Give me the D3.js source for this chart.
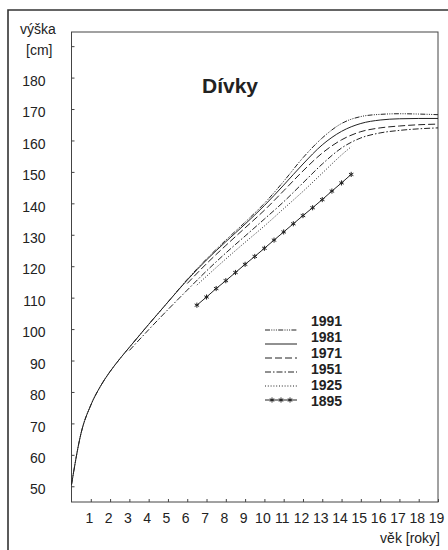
<!DOCTYPE html>
<html><head><meta charset="utf-8">
<script src="https://cdn.jsdelivr.net/npm/d3@7"></script>
<style>
html,body{margin:0;padding:0;background:#fff;}
svg{display:block;font-family:"Liberation Sans",Arial,Helvetica,sans-serif;}
</style></head>
<body>
<svg id="chart" width="448" height="550"></svg>
<script>
// ---- data ----
const yTicks = [50,60,70,80,90,100,110,120,130,140,150,160,170,180,190];
const xTicks = [1,2,3,4,5,6,7,8,9,10,11,12,13,14,15,16,17,18,19];
const seriesNames = ["1991","1981","1971","1951","1925","1895"];

const ages1991 = [0,0.5,1,1.5,2,2.5,3,4,5,6,7,8,9,10,11,12,13,14,15,16,17,18,19];
const h1991   = [50.5,67,75.8,81.8,86.5,90.5,94.2,101.5,108.6,115.8,122.3,128.3,134,140,147,154.5,160.8,165.4,167.6,168.3,168.5,168.4,168.2];

const ages1981 = [0,0.5,1,1.5,2,2.5,3,4,5,6,7,8,9,10,11,12,13,14,15,16,17,18,19];
const h1981   = [50.5,67,75.8,81.8,86.5,90.5,94.2,101.5,108.6,115.6,122,127.8,133.4,139.3,145.8,152.5,158.6,162.9,165.4,166.5,166.9,167,167];

const ages1971 = [6,7,8,9,10,11,12,13,14,15,16,17,18,19];
const h1971   = [114.5,120.8,126.6,132.2,137.8,144,150.3,156,160.2,162.8,164,164.6,165,165.2];

const ages1951 = [3,4,5,6,7,8,9,10,11,12,13,14,15,16,17,18,19];
const h1951   = [93.2,99.8,106.2,112.4,118.5,124.2,129.6,135,140.5,146.5,152.5,157.6,160.8,162.4,163.2,163.7,164];

const ages1925 = [6.5,7,8,9,10,11,12,13,14,14.5];
const h1925   = [114,116.8,122.3,127.6,132.8,138.3,143.8,149.6,155.4,158];

const ages1895 = [6.5,7,7.5,8,8.5,9,9.5,10,10.5,11,11.5,12,12.5,13,13.5,14,14.5];
const h1895   = [107.6,110.2,112.9,115.4,118.0,120.6,123.1,125.7,128.3,130.9,133.5,136.1,138.6,141.2,143.9,146.5,149.2];

const seriesAges = [ages1991, ages1981, ages1971, ages1951, ages1925, ages1895];
const seriesVals = [h1991, h1981, h1971, h1951, h1925, h1895];

// ---- styles ----
const dashes = ["5,1.3,1,1.3,1,1.3,1,1.3", null, "7,3", "6,2,1.5,2", "1,1.8", null];
const ink = "#222";

const svg = d3.select("#chart");
const L = 71.5, R = 438, T = 32, B = 502;
const x = d3.scaleLinear().domain([0,19]).range([L,R]);
const y = d3.scaleLinear().domain([45,194.5]).range([B,T]);

// outer frame (left + top)
svg.append("path").attr("d", d3.line()([[8,550],[8,10],[448,10]]))
  .attr("fill","none").attr("stroke","#333").attr("stroke-width",1.6);

// plot box
svg.append("rect").attr("x",L).attr("y",T).attr("width",R-L).attr("height",B-T)
  .attr("fill","none").attr("stroke","#444").attr("stroke-width",1);

// y axis
const ya = svg.append("g").attr("transform",`translate(${L},0)`)
  .call(d3.axisLeft(y).tickValues(yTicks).tickSizeInner(-3).tickSizeOuter(0).tickPadding(26)
    .tickFormat(d => d===190 ? "" : d));
ya.select(".domain").remove();
ya.selectAll("line").attr("stroke","#444");
ya.selectAll("text").attr("font-size",14).attr("fill",ink).attr("dy","0.55em");

// x axis
const xa = svg.append("g").attr("transform",`translate(0,${B})`)
  .call(d3.axisBottom(x).tickValues(xTicks).tickSizeInner(-3).tickSizeOuter(0).tickPadding(11));
xa.select(".domain").remove();
xa.selectAll("line").attr("stroke","#444");
xa.selectAll("text").attr("font-size",14).attr("fill",ink).attr("dx",-2);

// axis titles
svg.append("text").attr("x",20).attr("y",34).attr("font-size",14).attr("fill",ink).text("výška");
svg.append("text").attr("x",26).attr("y",55).attr("font-size",14).attr("fill",ink).text("[cm]");
svg.append("text").attr("x",440).attr("y",543).attr("text-anchor","end").attr("font-size",14).attr("fill",ink).text("věk [roky]");

// title
svg.append("text").attr("x",202).attr("y",93).attr("font-size",21).attr("font-weight","bold").attr("fill",ink).text("Dívky");

// lines
const line = d3.line().curve(d3.curveMonotoneX);
seriesNames.forEach((name,i) => {
  const pts = seriesAges[i].map((a,j) => [x(a), y(seriesVals[i][j])]);
  const p = svg.append("path").attr("d", line(pts)).attr("fill","none")
    .attr("stroke",ink).attr("stroke-width", 1);
  if (dashes[i]) p.attr("stroke-dasharray", dashes[i]);
});

// 1895 markers
const star = d3.symbol().type(d3.symbolAsterisk).size(18);
svg.append("g").selectAll("path").data(ages1895.map((a,j)=>[x(a),y(h1895[j])]))
  .join("path").attr("d",star).attr("transform",d=>`translate(${d[0]},${d[1]})`)
  .attr("fill","none").attr("stroke",ink).attr("stroke-width",1);

// legend
const lg = svg.append("g");
seriesNames.forEach((name,i) => {
  const ly = 330 + i*14;
  const s = lg.append("line").attr("x1",265).attr("x2",297).attr("y1",ly).attr("y2",ly)
    .attr("stroke",ink).attr("stroke-width",1);
  if (dashes[i]) s.attr("stroke-dasharray", dashes[i]);
  if (i===5) {
    [272,281,290].forEach(mx => lg.append("path").attr("d",star)
      .attr("transform",`translate(${mx},${ly})`).attr("fill","none").attr("stroke",ink));
  }
  lg.append("text").attr("x",311).attr("y",326 + i*15.9).attr("font-size",14)
    .attr("font-weight","bold").attr("fill",ink).text(name);
});
</script>
</body></html>
